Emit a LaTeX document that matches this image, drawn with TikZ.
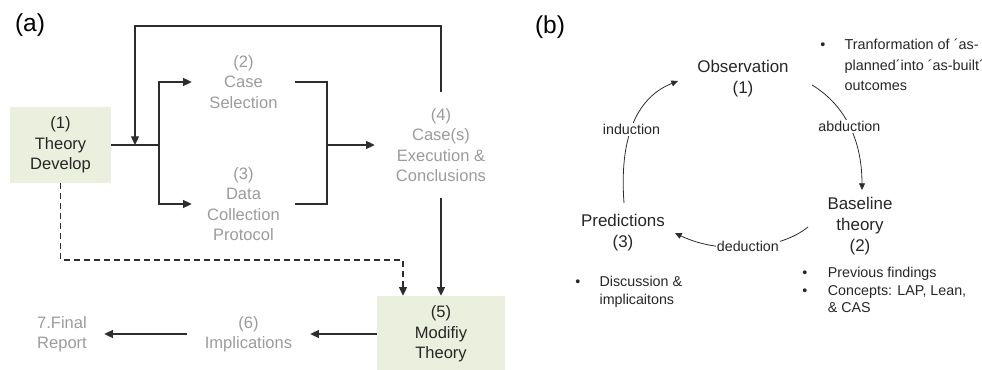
\documentclass[tikz,border=0pt]{standalone}
\usepackage{fontspec}
\setmainfont{Liberation Sans}
\usetikzlibrary{arrows.meta}
\definecolor{boxgreen}{RGB}{235,240,222}
\definecolor{txtgray}{RGB}{155,155,155}
\definecolor{linegray}{RGB}{45,45,45}
\tikzset{
  box/.style={fill=boxgreen, align=center, text=black!85, font=\fontsize{12.4}{15.4}\selectfont,
    minimum width=75.75pt, minimum height=57pt, inner sep=0pt},
  stage/.style={text=txtgray, align=center, font=\fontsize{12.4}{15.4}\selectfont, inner sep=0pt},
  tag/.style={font=\fontsize{18.4}{20}\selectfont},
  ln/.style={draw=linegray, line width=0.9pt},
  arr/.style={ln, -{Triangle[length=6.5pt,width=6pt]}},
  cyc/.style={align=center, text=black!85, font=\fontsize{12.7}{15.75}\selectfont, inner sep=0pt},
  small/.style={font=\fontsize{10.7}{13}\selectfont, text=black!85},
  lbl/.style={small, fill=white, inner sep=1pt},
  carr/.style={draw=linegray, line width=0.6pt, -{Triangle[length=5pt,width=4.5pt]}},
  note/.style={small, anchor=base west, inner sep=0pt}
}
\begin{document}
\begin{tikzpicture}[x=0.75pt, y=-0.75pt]
    \useasboundingbox (0,0) rectangle (982,370);
    % (a) 研究の流れ
    \node[tag] (tagA) at (30,25) {(a)};
    \node[box] (theory) at (60.5,145) {(1)\\Theory\\Develop};
    \node[stage, minimum width=77.25pt] (case) at (243.5,82) {(2)\\Case\\Selection};
    \node[stage, minimum width=77.25pt] (data) at (243.5,204) {(3)\\Data\\Collection\\Protocol};
    \node[stage, minimum width=99pt, minimum height=78.75pt] (exec) at (441,145) {(4)\\Case(s)\\Execution \&\\Conclusions};
    \node[box, minimum width=96pt] (modify) at (441,334) {(5)\\Modifiy\\Theory};
    \node[stage, minimum width=92.25pt] (impl) at (248.5,334) {(6)\\Implications};
    \node[stage, minimum width=63pt] (final) at (62,334) {7.Final\\Report};
    \coordinate (split) at (159,145);
    \coordinate (join) at (327,145);
    \coordinate (loopL) at (135,145);
    \coordinate (loopT) at (441,26);
    \coordinate (dash) at (403,260);
    \draw[ln] (theory.east) -- (split);
    \draw[arr] (split) |- (case.west);
    \draw[arr] (split) |- (data.west);
    \draw[ln] (case.east) -| (join) |- (data.east);
    \draw[arr] (join) -- (exec.west);
    \draw[arr] (exec.north) -- (loopT) -| (loopL);%フィードバック
    \draw[arr] (exec.south) -- (modify.north);
    \draw[arr, dash pattern=on 4.5pt off 3pt] (theory.south) |- (dash) -- (dash |- modify.north);
    \draw[arr] (modify.west) -- (impl.east);
    \draw[arr] (impl.west) -- (final.east);
    % (b) サイクル
    \node[tag] (tagB) at (550,27) {(b)};
    \node[cyc] (obs) at (743,79) {Observation\\(1)};
    \node[cyc] (base) at (860,226.5) {Baseline\\theory\\(2)};
    \node[cyc] (pred) at (623,233) {Predictions\\(3)};
    \coordinate (indS) at (624,203);
    \coordinate (indE) at (678,81);
    \coordinate (abdS) at (812,85);
    \coordinate (abdE) at (862,190);
    \coordinate (dedS) at (808,227);
    \coordinate (dedE) at (675,233);
    \draw[carr] (indS) .. controls (620,150) and (630,100) .. node[lbl] {induction} (indE);
    \draw[carr] (abdS) .. controls (845,105) and (862,140) .. node[lbl] {abduction} (abdE);
    \draw[carr] (dedS) .. controls (780,250) and (720,255) .. node[lbl] {deduction} (dedE);
    % 箇条書き
    \node[note, font=\fontsize{10.8}{15.4}\selectfont] (noteObs) at (820,49.5)
      {\begin{tabular}[t]{@{}l@{\hspace{14.5pt}}l@{}}\textbullet & Tranformation of ´as-\\ & planned´into ´as-built´\\ & outcomes\end{tabular}};
    \node[note] (noteBase) at (802,278)
      {\begin{tabular}[t]{@{}l@{\hspace{15.5pt}}l@{}}\textbullet & Previous findings\\ \textbullet & Concepts: LAP, Lean,\\ & \& CAS\end{tabular}};
    \node[note] (notePred) at (575,287)
      {\begin{tabular}[t]{@{}l@{\hspace{14.5pt}}l@{}}\textbullet & Discussion \&\\ & implicaitons\end{tabular}};
\end{tikzpicture}
\end{document}
